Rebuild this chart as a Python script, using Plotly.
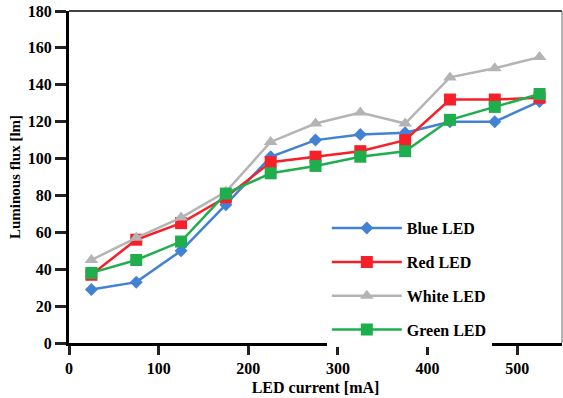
import plotly.graph_objects as go

current = [25, 75, 125, 175, 225, 275, 325, 375, 425, 475, 525]
blue = [29, 33, 50, 75, 101, 110, 113, 114, 120, 120, 131]
red = [37, 56, 65, 79, 98, 101, 104, 110, 132, 132, 133]
white = [45, 57, 68, 82, 109, 119, 125, 119, 144, 149, 155]
green = [38, 45, 55, 81, 92, 96, 101, 104, 121, 128, 135]

x_ticks = [0, 100, 200, 300, 400, 500]
y_ticks = [0, 20, 40, 60, 80, 100, 120, 140, 160, 180]

series = [
    ("Blue LED", blue, "#4281d4", "diamond", 10),
    ("Red LED", red, "#f5202a", "square", 12),
    ("White LED", white, "#b4b4b4", "triangle-up", 12),
    ("Green LED", green, "#1fae4e", "square", 12),
]

font_family = "Liberation Serif"

fig = go.Figure()
for i, (name, vals, color, sym, size) in enumerate(series):
    fig.add_trace(go.Scatter(
        x=current, y=vals, name=name, mode="lines+markers",
        line=dict(color=color, width=2.5),
        marker=dict(symbol=sym, size=size, color=color),
        legendgroup=f"g{i}",
    ))

fig.update_layout(
    width=563, height=398,
    margin=dict(l=69, r=1, t=11, b=55),
    paper_bgcolor="white", plot_bgcolor="white",
    font=dict(family=font_family, color="black"),
    showlegend=True,
    legend=dict(
        x=0.523, y=0.397, xanchor="left", yanchor="top",
        bgcolor="white", borderwidth=0,
        font=dict(family=font_family, size=16, color="black", weight="bold"),
        traceorder="grouped", tracegroupgap=10, itemwidth=70,
    ),
    xaxis=dict(
        range=[0, 550], tickvals=x_ticks, ticktext=[str(v) for v in x_ticks],
        showgrid=False, zeroline=False, automargin=False,
        showline=True, linecolor="black", linewidth=3,
        ticks="outside", ticklen=9, tickwidth=3, tickcolor="#222",
        tickfont=dict(family=font_family, size=16, weight="bold"),
        title=dict(text="LED current [mA]", standoff=6,
                   font=dict(family=font_family, size=16, weight="bold")),
    ),
    yaxis=dict(
        range=[0, 180], tickvals=y_ticks, ticktext=[str(v) for v in y_ticks],
        showgrid=False, zeroline=False, automargin=False,
        showline=True, linecolor="black", linewidth=3,
        ticks="outside", ticklen=11, tickwidth=3, tickcolor="#222",
        tickfont=dict(family=font_family, size=16, weight="bold"),
        title=dict(text="Luminous flux [lm]", standoff=4,
                   font=dict(family=font_family, size=15, weight="bold")),
    ),
    shapes=[
        dict(type="line", xref="paper", yref="paper", x0=0, x1=1, y0=1, y1=1,
             line=dict(color="#444", width=2)),
        dict(type="line", xref="paper", yref="paper", x0=1, x1=1, y0=0, y1=1,
             line=dict(color="#666", width=1)),
    ],
)

# remove the browser's default 8px body margin so the figure fills the window
fig.write_html("out.html", config={"displayModeBar": False},
               post_script="document.body.style.margin='0';")
